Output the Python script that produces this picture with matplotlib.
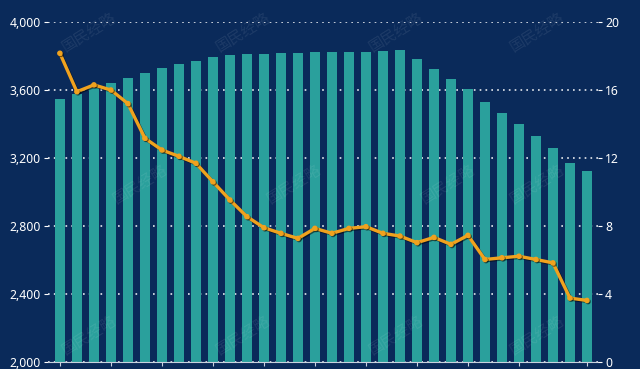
import matplotlib
matplotlib.use("Agg")
import matplotlib.pyplot as plt
import matplotlib.patheffects as pe
import numpy as np

plt.rcParams['font.family'] = ['Noto Sans', 'Noto Sans CJK SC', 'DejaVu Sans']

# bar series (left axis) and line series (right axis)
bars = [3545, 3575, 3610, 3641, 3673, 3702, 3728, 3751, 3772, 3792,
        3808, 3812, 3814, 3818, 3819, 3822, 3824, 3826, 3826, 3827,
        3833, 3782, 3725, 3667, 3608, 3529, 3463, 3400, 3329, 3257,
        3172, 3125]
rate = [18.16, 15.9, 16.3, 16.0, 15.2, 13.16, 12.47, 12.1, 11.69, 10.6,
        9.53, 8.55, 7.9, 7.57, 7.27, 7.86, 7.57, 7.86, 7.96, 7.57,
        7.41, 7.02, 7.33, 6.92, 7.45, 6.03, 6.13, 6.22, 6.03, 5.83,
        3.76, 3.62]
left_ticks = [2000, 2400, 2800, 3200, 3600, 4000]
left_labels = ['2,000', '2,400', '2,800', '3,200', '3,600', '4,000']
right_ticks = [0, 4, 8, 12, 16, 20]

bg = '#0a2a5a'
teal = '#2aa09c'
orange = '#f0a21e'

x = np.arange(len(bars))

fig = plt.figure(figsize=(6.4, 3.69), dpi=100, facecolor=bg)
ax = fig.add_axes([48/640, 7/369, 550/640, 340/369])
ax.set_facecolor(bg)

ax.bar(x, bars, width=0.6, color=teal, zorder=2)
ax.set_ylim(2000, 4000)
ax.set_xlim(-0.7, len(bars) - 0.35)
ax.set_yticks(left_ticks)
ax.set_yticklabels(left_labels)
ax.yaxis.grid(True, linestyle=(0, (1, 2.5)), color='white', lw=1.2, alpha=0.9)
ax.set_axisbelow(True)
ax.set_xticks(list(range(0, 28, 3)) + [len(bars) - 1])
ax.tick_params(axis='x', length=3, color='#c9d2de', labelbottom=False)
ax.tick_params(axis='y', length=3, color='white', labelcolor='white',
               labelsize=8.8, pad=2)
for s in ['left', 'right', 'top']:
    ax.spines[s].set_visible(False)
ax.spines['bottom'].set_color('#c9d2de')
ax.spines['bottom'].set_linewidth(0.8)

ax2 = ax.twinx()
ax2.plot(x, rate, color=orange, lw=2.4, marker='o', ms=3, zorder=5,
         path_effects=[pe.SimpleLineShadow(offset=(0.8, -0.8), shadow_color='black', alpha=0.5),
                       pe.Normal()])
ax2.set_ylim(0, 20)
ax2.set_yticks(right_ticks)
ax2.tick_params(axis='y', length=3, color='white', labelcolor='white',
                labelsize=8.8, pad=2)
for s in ax2.spines.values():
    s.set_visible(False)

# faint watermark
for row, yy in enumerate([0.91, 0.5, 0.09]):
    off = 0 if row % 2 == 0 else 0.08
    for xx in [0.14, 0.38, 0.62, 0.84]:
        fig.text(xx + off * (xx < 0.8), yy, '国民经略', color='white', alpha=0.08,
                 fontsize=11, rotation=32, ha='center', va='center',
                 family=['Noto Sans CJK SC'], zorder=10)

fig.savefig('out.png', dpi=100, facecolor=bg)
